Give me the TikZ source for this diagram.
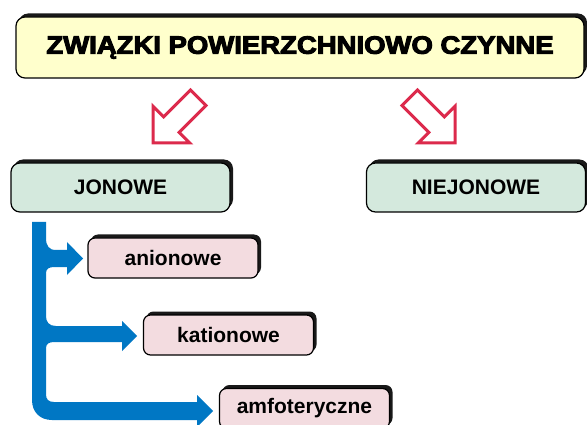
\documentclass[tikz,border=0pt]{standalone}
\usepackage{fontspec}
\setmainfont{Liberation Sans}
\newfontfamily\titlefont{Liberation Sans}[BoldFeatures={FakeBold=4}]
\usetikzlibrary{shadows}
\definecolor{titlefill}{HTML}{FFFFCC}
\definecolor{greenfill}{HTML}{D4E9DD}
\definecolor{pinkfill}{HTML}{F3DCE0}
\definecolor{arrowred}{HTML}{DC2A4C}
\definecolor{connblue}{HTML}{0077C4}
\tikzset{
  boxbase/.style={draw=black, line width=1.2pt, rounded corners=9pt, inner sep=0pt,
    general shadow={fill=black!90, shadow xshift=3pt, shadow yshift=3.5pt}},
  titlebox/.style={boxbase, fill=titlefill, minimum width=568pt, minimum height=61pt,
    font=\titlefont\bfseries\fontsize{25}{30}\selectfont},
  groupbox/.style={boxbase, fill=greenfill, minimum width=219pt, minimum height=49pt,
    font=\bfseries\fontsize{21}{25}\selectfont},
  kindbox/.style={boxbase, fill=pinkfill, minimum width=170pt, minimum height=40pt,
    rounded corners=7pt, font=\bfseries\fontsize{21}{25}\selectfont},
  outlinearrow/.style={draw=arrowred, line width=3pt, fill=white, line join=miter},
  blueconn/.style={fill=connblue, draw=none}
}
\begin{document}
\begin{tikzpicture}[x=1pt,y=-1pt]
\useasboundingbox (0,0) rectangle (587,425);
\clip (0,0) rectangle (587,425);
\fill[white] (0,0) rectangle (587,425);

% boxes
\node[titlebox] (title) at (300,47.5) {\scalebox{1.1}[1]{ZWIĄZKI POWIERZCHNIOWO CZYNNE}};
\node[groupbox] (jon) at (120.5,187.5) {JONOWE};
\node[groupbox] (niejon) at (476,187.5) {NIEJONOWE};
\node[kindbox] (anion) at (173,258) {anionowe};
\node[kindbox] (kation) at (228.5,335) {kationowe};
\node[kindbox] (amfo) at (304.5,408.5) {amfoteryczne};

% red outline arrows
\draw[outlinearrow] (153,143) -- (153,106.2) -- (163.6,116.8) -- (190.5,89.9)
  -- (206,105.5) -- (179.2,132.4) -- (189.8,143) -- cycle;
\draw[outlinearrow] (455,143) -- (455,106.2) -- (444.4,116.8) -- (417.5,89.9)
  -- (402,105.5) -- (428.8,132.4) -- (418.2,143) -- cycle;

% blue branching connector
\path[blueconn] (32,222) -- (46,222) -- (46,238)
  .. controls (46,246) and (49,250) .. (56,250) -- (67,250) -- (67,242)
  -- (83,258.5) -- (67,275) -- (67,267) -- (54,267)
  .. controls (49,267) and (46,269) .. (46,273) -- (46,316)
  .. controls (46,322) and (49,326) .. (56,326) -- (122,326) -- (122,321)
  -- (137,336) -- (122,351) -- (122,342) -- (54,342)
  .. controls (49,342) and (46,344) .. (46,348) -- (46,394)
  .. controls (46,399) and (48,402) .. (54,402) -- (197,402) -- (197,395)
  -- (213,411) -- (197,427) -- (197,420) -- (52,420)
  .. controls (40,420) and (32,412) .. (32,400) -- cycle;
\end{tikzpicture}
\end{document}
